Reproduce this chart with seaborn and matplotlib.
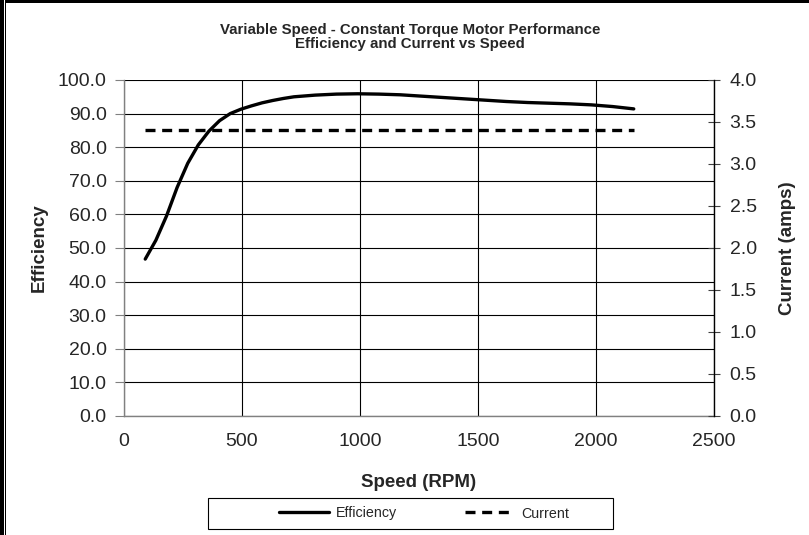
import numpy as np
import pandas as pd
import matplotlib
matplotlib.use("Agg")
import matplotlib.pyplot as plt
from matplotlib.patches import Rectangle
from matplotlib.ticker import FormatStrFormatter, MultipleLocator
import seaborn as sns

sns.set_style("white")
plt.rcParams['font.family'] = ['Liberation Sans', 'DejaVu Sans']

# values
speed = [90, 135, 180, 225, 270, 315, 360, 405, 450, 495, 540, 585, 630, 675, 720, 810, 900, 990,
         1080, 1170, 1260, 1350, 1440, 1530, 1620, 1710, 1800, 1890, 1980, 2070, 2160]
efficiency = [46.7, 52.3, 59.5, 68.0, 75.2, 80.7, 84.8, 87.9, 90.0, 91.3, 92.3, 93.2, 93.9, 94.5, 95.0, 95.5, 95.8, 95.9,
              95.8, 95.6, 95.2, 94.8, 94.4, 94.0, 93.6, 93.3, 93.1, 92.9, 92.6, 92.1, 91.4]
current = [3.4] * len(speed)
title_lines = ["Variable Speed - Constant Torque Motor Performance", "Efficiency and Current vs Speed"]

W, H = 809, 535
fig = plt.figure(figsize=(W / 100, H / 100), dpi=100)
ax = fig.add_axes([124 / W, 1 - 416 / H, (714 - 124) / W, (416 - 80) / H])
ax2 = ax.twinx()

sns.lineplot(x=speed, y=efficiency, ax=ax, color="black", lw=2.4, legend=False)
sns.lineplot(x=speed, y=current, ax=ax2, color="black", lw=2.4, legend=False)
eff_line = ax.lines[0]
cur_line = ax2.lines[0]
cur_line.set_dashes((3, 2))
eff_line.set_solid_capstyle("round")
eff_line.set_solid_joinstyle("round")

ax.set_xlim(0, 2500)
ax.set_ylim(0, 100)
ax2.set_ylim(0, 4)
ax.xaxis.set_major_locator(MultipleLocator(500))
ax.yaxis.set_major_locator(MultipleLocator(10))
ax2.yaxis.set_major_locator(MultipleLocator(0.5))
ax.yaxis.set_major_formatter(FormatStrFormatter("%.1f"))
ax2.yaxis.set_major_formatter(FormatStrFormatter("%.1f"))

ax.grid(True, color="black", lw=0.8)
ax.set_axisbelow(True)
for s in ["top", "right"]:
    ax.spines[s].set_visible(False)
for s in ["left", "bottom"]:
    ax.spines[s].set_color("#808080")
    ax.spines[s].set_linewidth(1.0)
for s in ["top", "left", "bottom"]:
    ax2.spines[s].set_visible(False)
ax2.spines["right"].set_color("black")
ax2.spines["right"].set_linewidth(1.0)

ax.tick_params(axis="y", direction="out", length=6.5, width=0.8, color="#808080", labelsize=14, pad=6)
ax.tick_params(axis="x", direction="out", length=4.5, width=0.8, color="#808080", labelsize=14, pad=8)
ax2.tick_params(axis="y", direction="inout", length=8.5, width=0.8, color="#404040", labelsize=14, pad=7)

ax.set_xlabel("Speed (RPM)", fontsize=13.5, fontweight="bold", labelpad=17)
ax.set_ylabel("Efficiency", fontsize=13.5, fontweight="bold", labelpad=7)
ax2.set_ylabel("Current (amps)", fontsize=13.5, fontweight="bold", labelpad=16)

fig.text(410 / W, 1 - 37 / H, "\n".join(title_lines), ha="center", va="center",
         fontsize=10.8, fontweight="bold", linespacing=1.05)

# legend entries spread inside the box, frame drawn separately like Excel's
leg = fig.legend([eff_line, cur_line], ["Efficiency", "Current"], ncol=2, mode="expand",
                 bbox_to_anchor=(279 / W, 1 - 529 / H, 290 / W, 31 / H), loc="center",
                 fontsize=10.3, handlelength=3.5, handletextpad=0.45, columnspacing=2.5,
                 frameon=False, borderpad=0.0, borderaxespad=0)
fig.add_artist(Rectangle((208 / W, 1 - 529 / H), 405 / W, 31 / H, transform=fig.transFigure,
                         facecolor="none", edgecolor="black", lw=0.8))

# black frame edges from the original screenshot
fig.add_artist(Rectangle((0, 0), 4 / W, 1, transform=fig.transFigure, color="black", lw=0))
fig.add_artist(Rectangle((5 / W, 0), 1 / W, 1, transform=fig.transFigure, color="black", lw=0))
fig.add_artist(Rectangle((5 / W, 1 - 3 / H), 1, 3 / H, transform=fig.transFigure, color="black", lw=0))

fig.savefig("out.png", dpi=100)
